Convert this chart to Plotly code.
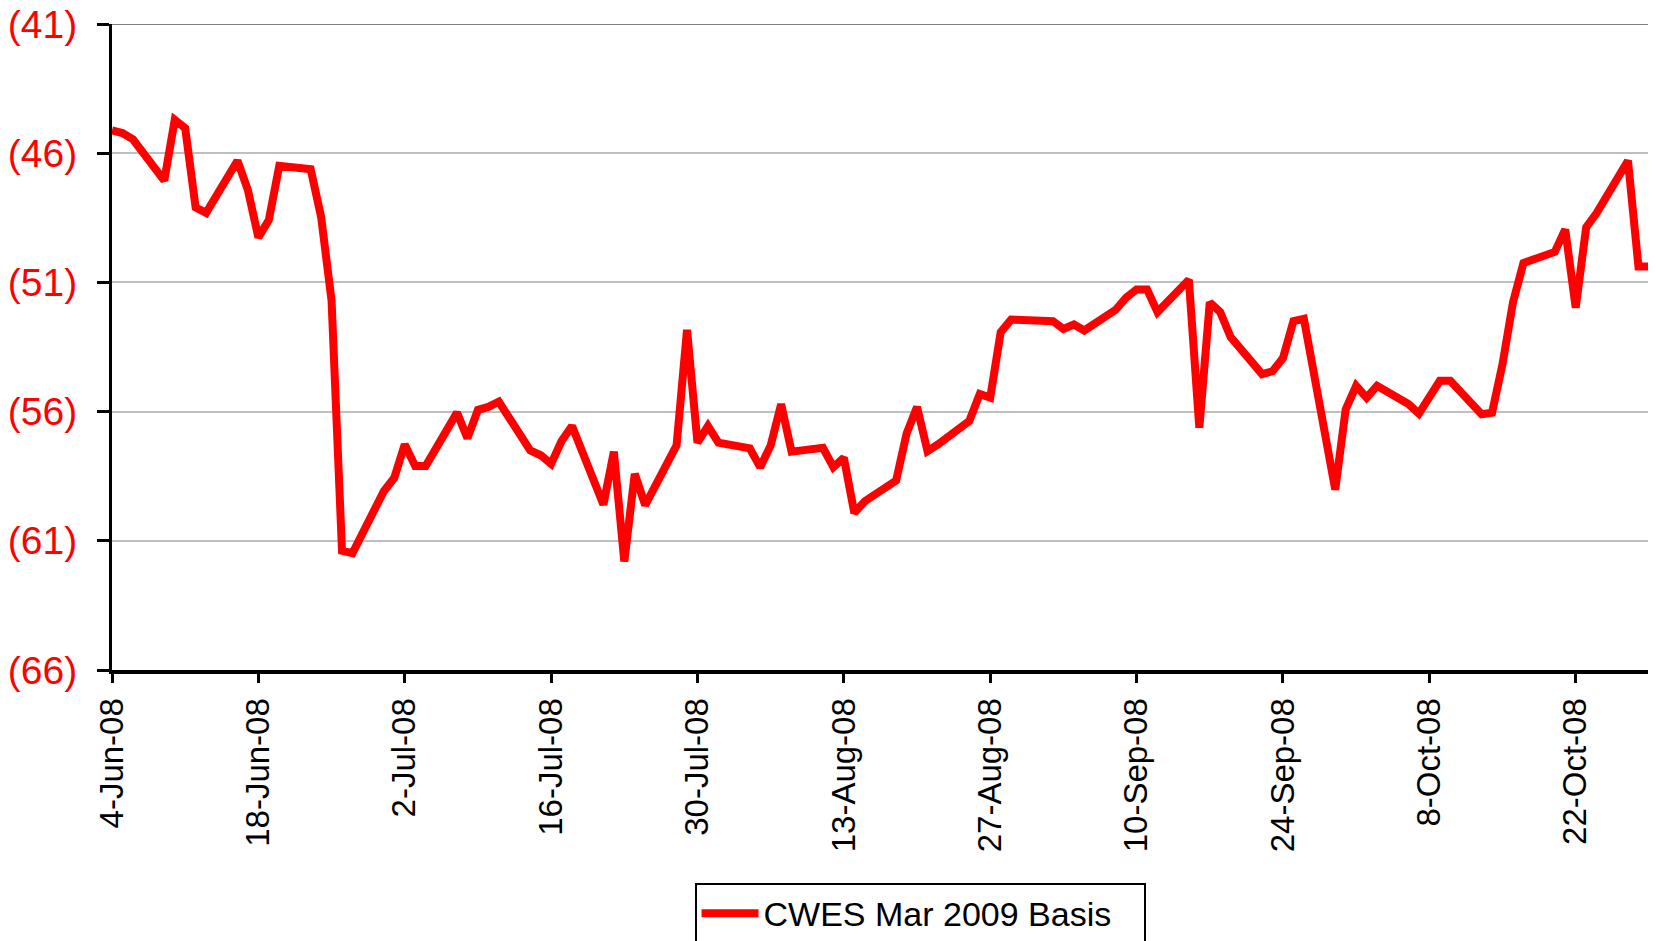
import plotly.graph_objects as go
from datetime import datetime, timedelta

series_name = "CWES Mar 2009 Basis"

dates = [
    "2008-06-04", "2008-06-05", "2008-06-06", "2008-06-09", "2008-06-10", "2008-06-11",
    "2008-06-12", "2008-06-13", "2008-06-16", "2008-06-17", "2008-06-18", "2008-06-19",
    "2008-06-20", "2008-06-23", "2008-06-24", "2008-06-25", "2008-06-26", "2008-06-27",
    "2008-06-30", "2008-07-01", "2008-07-02", "2008-07-03", "2008-07-04", "2008-07-07",
    "2008-07-08", "2008-07-09", "2008-07-10", "2008-07-11", "2008-07-14", "2008-07-15",
    "2008-07-16", "2008-07-17", "2008-07-18", "2008-07-21", "2008-07-22", "2008-07-23",
    "2008-07-24", "2008-07-25", "2008-07-28", "2008-07-29", "2008-07-30", "2008-07-31",
    "2008-08-01", "2008-08-04", "2008-08-05", "2008-08-06", "2008-08-07", "2008-08-08",
    "2008-08-11", "2008-08-12", "2008-08-13", "2008-08-14", "2008-08-15", "2008-08-18",
    "2008-08-19", "2008-08-20", "2008-08-21", "2008-08-22", "2008-08-25", "2008-08-26",
    "2008-08-27", "2008-08-28", "2008-08-29", "2008-09-02", "2008-09-03", "2008-09-04",
    "2008-09-05", "2008-09-08", "2008-09-09", "2008-09-10", "2008-09-11", "2008-09-12",
    "2008-09-15", "2008-09-16", "2008-09-17", "2008-09-18", "2008-09-19", "2008-09-22",
    "2008-09-23", "2008-09-24", "2008-09-25", "2008-09-26", "2008-09-29", "2008-09-30",
    "2008-10-01", "2008-10-02", "2008-10-03", "2008-10-06", "2008-10-07", "2008-10-08",
    "2008-10-09", "2008-10-10", "2008-10-13", "2008-10-14", "2008-10-15", "2008-10-16",
    "2008-10-17", "2008-10-20", "2008-10-21", "2008-10-22", "2008-10-23", "2008-10-24",
    "2008-10-27", "2008-10-28", "2008-10-29", "2008-10-30",
]

basis = [
    -45.12, -45.22, -45.46, -47.06, -44.71, -45.03,
    -48.10, -48.31, -46.29, -47.43, -49.26, -48.59,
    -46.49, -46.62, -48.46, -51.70, -61.39, -61.48,
    -59.08, -58.56, -57.27, -58.11, -58.11, -56.04,
    -57.03, -55.93, -55.82, -55.62, -57.50, -57.69,
    -58.02, -57.14, -56.56, -59.60, -57.55, -61.80,
    -58.41, -59.62, -57.31, -52.84, -57.20, -56.56,
    -57.20, -57.42, -58.15, -57.31, -55.71, -57.55,
    -57.40, -58.15, -57.79, -59.92, -59.47, -58.67,
    -56.85, -55.82, -57.53, -57.27, -56.36, -55.32,
    -55.46, -52.93, -52.44, -52.50, -52.80, -52.63,
    -52.86, -52.06, -51.59, -51.27, -51.27, -52.15,
    -50.90, -56.62, -51.77, -52.15, -53.12, -54.55,
    -54.44, -53.93, -52.50, -52.41, -59.02, -55.91,
    -55.00, -55.46, -55.00, -55.71, -56.08, -55.43,
    -54.81, -54.81, -56.10, -56.04, -54.16, -51.77,
    -50.25, -49.82, -48.95, -51.98, -48.87, -48.32,
    -46.29, -50.38, -50.38, -50.65,
]

y_tickvals = [-66, -61, -56, -51, -46, -41]
y_ticktext = ["(66)", "(61)", "(56)", "(51)", "(46)", "(41)"]
x_start = "2008-06-04"
x_end_days = 147.68

FONT = "Liberation Sans, Arial, sans-serif"

x_end = (datetime(2008, 6, 4) + timedelta(days=x_end_days)).strftime("%Y-%m-%d %H:%M")

fig = go.Figure()
fig.add_trace(go.Scatter(
    x=dates, y=basis, mode="lines", name=series_name,
    line=dict(color="#FF0000", width=8),
))

fig.update_layout(
    width=1648, height=933,
    margin=dict(l=104, r=0, t=16, b=271, autoexpand=False),
    paper_bgcolor="white", plot_bgcolor="white",
    showlegend=True,
    legend=dict(
        orientation="h", entrywidth=375,
        x=0.3773, y=-0.329, xanchor="left", yanchor="top",
        bordercolor="black", borderwidth=2, bgcolor="white",
        font=dict(family=FONT, size=34, color="black"),
        itemwidth=57,
    ),
    xaxis=dict(
        type="date", range=[x_start, x_end],
        tick0=x_start, dtick=14 * 86400000, tickformat="%-d-%b-%y",
        tickangle=-90, ticks="outside", ticklen=9, tickwidth=3, tickcolor="black",
        showline=True, linecolor="black", linewidth=4,
        showgrid=False, zeroline=False,
        tickfont=dict(family=FONT, size=33, color="black"),
        ticklabelstandoff=2, ticklabeloverflow="allow",
    ),
    yaxis=dict(
        range=[-66, -41], tickvals=y_tickvals, ticktext=y_ticktext,
        ticks="outside", ticklen=12, tickwidth=3, tickcolor="black",
        showline=True, linecolor="black", linewidth=3,
        showgrid=True, gridcolor="#C0C0C0", gridwidth=2, zeroline=False,
        tickfont=dict(family=FONT, size=39, color="#FF0000"),
        ticklabelstandoff=12, ticklabeloverflow="allow",
    ),
    shapes=[dict(type="line", xref="paper", yref="y", x0=0, x1=1, y0=-41, y1=-41,
                 line=dict(color="#808080", width=2), layer="below")],
)

fig.write_html("out.html")
